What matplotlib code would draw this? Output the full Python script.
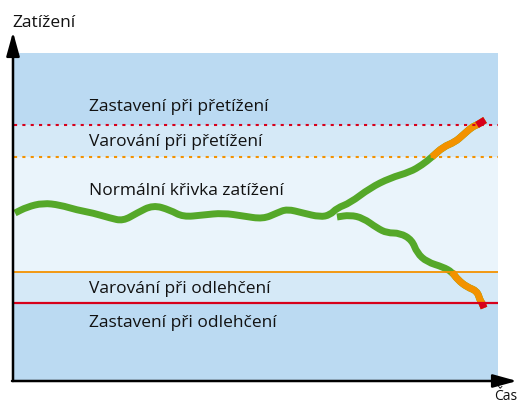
import matplotlib
matplotlib.use("Agg")
import matplotlib.pyplot as plt
from matplotlib.patches import ArrowStyle, PathPatch
from matplotlib.path import Path

# load curve (time, load) - arbitrary units
time_main = [1, 13, 29, 46, 63, 79, 96, 109, 123, 139, 156, 169, 189, 209, 229, 249,
             263, 273, 289, 306, 316, 323, 336, 356, 376, 396, 408, 418, 429, 441,
             449, 458, 463, 471]
load_main = [167, 173, 177, 175, 170, 167, 162, 159, 167, 175, 170, 163, 165, 167, 164, 161,
             167, 171, 167, 163, 165, 172, 177, 192, 202, 208, 215, 223, 233, 238,
             245, 253, 255, 260]

# branch going down (underload)
time_low = [323, 336, 349, 363, 373, 386, 398, 403, 413, 429, 438, 444, 453, 463, 466, 468, 470]
load_low = [163, 165, 162, 152, 147, 147, 140, 127, 118, 113, 108, 100, 93, 89, 80, 77, 72]

# limits
stop_high = 255
warn_high = 223
warn_low = 108
stop_low = 77
load_top = 327
time_end = 484

labels = ["Zastavení při přetížení", "Varování při přetížení", "Normální křivka zatížení",
          "Varování při odlehčení", "Zastavení při odlehčení"]
label_y = [269, 234, 185, 87, 53]

dark_blue = "#bbdaf2"
mid_blue = "#d5e9f7"
light_blue = "#eaf4fb"
green = "#55a829"
orange = "#f39200"
red = "#d7001b"
txt = "#111111"

plt.rcParams['font.family'] = ['Open Sans', 'DejaVu Sans']

fig = plt.figure(figsize=(5.23, 4.05), dpi=100)
ax = fig.add_axes([14/523, 25/405, 484/523, 327/405])
ax.set_xlim(0, time_end)
ax.set_ylim(0, load_top)
ax.axis('off')

# zones
ax.axhspan(0, stop_low, color=dark_blue, lw=0)
ax.axhspan(stop_low, warn_low, color=mid_blue, lw=0)
ax.axhspan(warn_low, warn_high, color=light_blue, lw=0)
ax.axhspan(warn_high, stop_high, color=mid_blue, lw=0)
ax.axhspan(stop_high, load_top, color=dark_blue, lw=0)

# limit lines
l1, = ax.plot([0, time_end], [stop_high, stop_high], color=red, lw=1.5)
l1.set_dashes([1.5, 2.5])
l2, = ax.plot([0, time_end], [warn_high, warn_high], color=orange, lw=1.5)
l2.set_dashes([1.5, 2.5])
ax.plot([0, time_end], [warn_low, warn_low], color=orange, lw=1.3)
ax.plot([0, time_end], [stop_low, stop_low], color=red, lw=1.6)

for t, y in zip(labels, label_y):
    ax.text(75, y, t, fontsize=12.5, color=txt, va='baseline')


def mid(a, b):
    return ((a[0] + b[0]) / 2, (a[1] + b[1]) / 2)


def draw(xs, ys, c):
    # smooth line: the read points act as bezier controls
    pts = list(zip(xs, ys))
    verts = [pts[0]]
    codes = [Path.MOVETO]
    if len(pts) > 2:
        verts.append(mid(pts[0], pts[1]))
        codes.append(Path.LINETO)
        for i in range(1, len(pts) - 1):
            verts += [pts[i], mid(pts[i], pts[i + 1])]
            codes += [Path.CURVE3, Path.CURVE3]
    verts.append(pts[-1])
    codes.append(Path.LINETO)
    ax.add_patch(PathPatch(Path(verts, codes), fill=False, edgecolor=c, lw=5,
                           capstyle='butt', joinstyle='round'))


def pick(xs, ys, keep):
    pts = [(x, y) for x, y in zip(xs, ys) if keep(y)]
    return [p[0] for p in pts], [p[1] for p in pts]


draw(time_main, load_main, green)
draw(*pick(time_main, load_main, lambda v: v >= warn_high), orange)
draw(*pick(time_main, load_main, lambda v: v >= stop_high), red)

draw(time_low, load_low, green)
draw(*pick(time_low, load_low, lambda v: v <= warn_low), orange)
draw(*pick(time_low, load_low, lambda v: v <= stop_low), red)

# axes with arrows
arr = ArrowStyle('-|>', head_length=1.45, head_width=0.4)
ax.annotate('', xy=(-1, 348), xytext=(-1, -1), annotation_clip=False,
            arrowprops=dict(arrowstyle=arr, color='black', lw=1.8, shrinkA=0, shrinkB=0))
ax.annotate('', xy=(503, -1), xytext=(-2, -1), annotation_clip=False,
            arrowprops=dict(arrowstyle=arr, color='black', lw=1.8, shrinkA=0, shrinkB=0))

fig.text(12/523, 1 - 27/405, "Zatížení", fontsize=12.5, color=txt, va='baseline')
fig.text(517/523, 0.5/405, "Čas", fontsize=10, color=txt, va='bottom', ha='right')

fig.savefig("out.png", dpi=100)
